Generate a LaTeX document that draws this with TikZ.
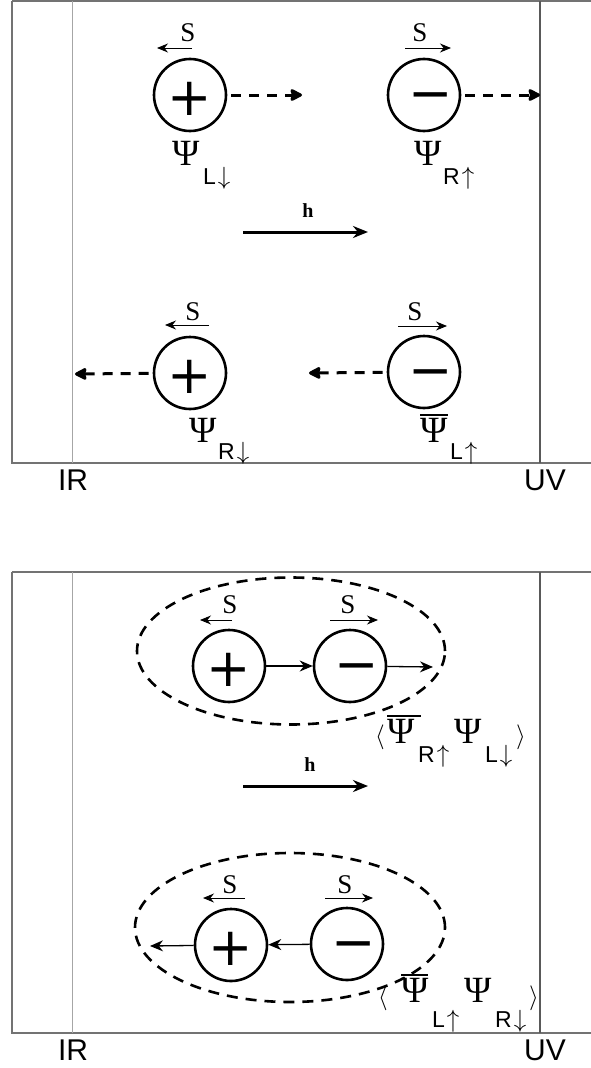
\documentclass[tikz,border=0pt]{standalone}
\usepackage{fontspec}
\usetikzlibrary{arrows.meta}
\newfontfamily\serf{Liberation Serif}
\newfontfamily\sanf{Liberation Sans}
\newfontfamily\signf{DejaVu Sans}
\newcommand{\psibar}[1]{\makebox[0pt][l]{\raisebox{26pt}{\rule{#1}{2pt}}}Ψ}
\newcommand{\subs}[2]{#1\kern2pt{\fontsize{27}{29}\selectfont$#2$}}
\newcommand{\plussign}{\smash{\raisebox{-20.5pt}{+}}}
\newcommand{\minussign}{\hspace{14pt}\smash{\raisebox{-16.5pt}{−}}}
\tikzset{
  frame/.style={draw=black!55, line width=1.5pt},
  irline/.style={draw=black!35, line width=1pt},
  uvline/.style={draw=black!65, line width=1.3pt},
  particle/.style={circle, draw, line width=2.6pt, minimum size=72pt, inner sep=0pt, font=\signf\fontsize{53}{56}\selectfont},
  dasharrow/.style={line width=3pt, dash pattern=on 10pt off 8pt, -{Stealth[length=14pt,width=14pt,inset=2pt,round]}, shorten <=4pt},
  spinarrow/.style={line width=0.9pt, -{Stealth[length=11pt,width=9pt]}},
  linkarrow/.style={line width=1.3pt, -{Stealth[length=13pt,width=11pt]}},
  harrow/.style={line width=3pt, -{Stealth[length=15pt,width=12pt]}},
  pair/.style={line width=2.6pt, dash pattern=on 11pt off 8pt},
  slab/.style={font=\serf\fontsize{27}{30}\selectfont, inner sep=0pt},
  hlab/.style={font=\serf\bfseries\fontsize{20}{22}\selectfont, inner sep=0pt},
  axlab/.style={font=\sanf\fontsize{30}{32}\selectfont, inner sep=0pt},
  psilab/.style={anchor=base west, inner sep=0pt, font=\serf\fontsize{37}{40}\selectfont},
  sublab/.style={anchor=base west, inner sep=0pt, font=\sanf\fontsize{23}{25}\selectfont},
  brk/.style={anchor=base west, inner sep=0pt, font=\fontsize{36}{40}\selectfont},
}
\begin{document}
\begin{tikzpicture}[x=1pt,y=-1pt]
\useasboundingbox (0,0) rectangle (591,1068);
% ---------- top panel ----------
\draw[frame] (12,1) -- (600,1);
\draw[frame] (12,1) -- (12,463) -- (600,463);
\draw[irline] (72,1) -- (72,463);
\draw[uvline] (540,1) -- (540,463);
\node[axlab] (ir1) at (73,480) {IR};
\node[axlab] (uv1) at (545,480) {UV};

\node[particle] (p1) at (190,95) {\plussign};
\node[particle] (m1) at (424,95) {\minussign};
\node[particle] (p2) at (190,373) {\plussign};
\node[particle] (m2) at (424,372) {\minussign};

\coordinate (t1) at (302,95);
\coordinate (t2) at (540,95);
\coordinate (t3) at (75,374);
\coordinate (t4) at (309,373);
\draw[dasharrow] (p1) -- (t1);
\draw[dasharrow] (m1) -- (t2);
\draw[dasharrow] (p2) -- (t3);
\draw[dasharrow] (m2) -- (t4);

\node[slab] (s1) at (188,33) {S};
\coordinate (s1a) at (192,48); \coordinate (s1b) at (157,48);
\draw[spinarrow] (s1a) -- (s1b);
\node[slab] (s2) at (420,33) {S};
\coordinate (s2a) at (405,48); \coordinate (s2b) at (451,48);
\draw[spinarrow] (s2a) -- (s2b);
\node[slab] (s3) at (193,312) {S};
\coordinate (s3a) at (209,325); \coordinate (s3b) at (165,325);
\draw[spinarrow] (s3a) -- (s3b);
\node[slab] (s4) at (415,312) {S};
\coordinate (s4a) at (398,326); \coordinate (s4b) at (447,326);
\draw[spinarrow] (s4a) -- (s4b);

\node[psilab] (l1) at (172,165) {Ψ};
\node[sublab] (l1s) at (203,184) {\subs{L}{\downarrow}};
\node[psilab] (l2) at (414,165) {Ψ};
\node[sublab] (l2s) at (443,184) {\subs{R}{\uparrow}};
\node[psilab] (l3) at (189,442) {Ψ};
\node[sublab] (l3s) at (218,459) {\subs{R}{\downarrow}};
\node[psilab] (l4) at (420,442) {\psibar{28pt}};
\node[sublab] (l4s) at (450,459) {\subs{L}{\uparrow}};

\node[hlab] (h1) at (308,211) {h};
\coordinate (h1a) at (243,232); \coordinate (h1b) at (368,232);
\draw[harrow] (h1a) -- (h1b);

% ---------- bottom panel ----------
\draw[frame] (12,572) -- (600,572);
\draw[frame] (12,572) -- (12,1033) -- (600,1033);
\draw[irline] (72,572) -- (72,1033);
\draw[uvline] (540,572) -- (540,1033);
\node[axlab] (ir2) at (73,1050) {IR};
\node[axlab] (uv2) at (545,1050) {UV};

\draw[pair] (291,651) ellipse [x radius=154pt, y radius=73.5pt];
\node[particle] (p3) at (229,666) {\plussign};
\node[particle] (m3) at (350,666) {\minussign};
\coordinate (a3) at (433,667);
\draw[linkarrow] (p3) -- (m3);
\draw[linkarrow] (m3) -- (a3);
\node[slab] (s5) at (230,605) {S};
\coordinate (s5a) at (232,620); \coordinate (s5b) at (200,620);
\draw[spinarrow] (s5a) -- (s5b);
\node[slab] (s6) at (348,605) {S};
\coordinate (s6a) at (330,620); \coordinate (s6b) at (378,620);
\draw[spinarrow] (s6a) -- (s6b);

\node[brk] (b1) at (375,743) {$\langle$};
\node[psilab] (q1) at (387,743) {\psibar{34pt}};
\node[sublab] (q1s) at (418,762) {\subs{R}{\uparrow}};
\node[psilab] (q2) at (454,743) {Ψ};
\node[sublab] (q2s) at (485,762) {\subs{L}{\downarrow}};
\node[brk] (k1) at (516,743) {$\rangle$};

\node[hlab] (h2) at (310,765) {h};
\coordinate (h2a) at (243,786); \coordinate (h2b) at (368,786);
\draw[harrow] (h2a) -- (h2b);

\draw[pair] (290,927.5) ellipse [x radius=155pt, y radius=74.5pt];
\node[particle] (p4) at (231,945) {\plussign};
\node[particle] (m4) at (347,944) {\minussign};
\coordinate (a4) at (150,946);
\draw[linkarrow] (m4) -- (p4);
\draw[linkarrow] (p4) -- (a4);
\node[slab] (s7) at (230,885) {S};
\coordinate (s7a) at (245,898); \coordinate (s7b) at (203,898);
\draw[spinarrow] (s7a) -- (s7b);
\node[slab] (s8) at (345,885) {S};
\coordinate (s8a) at (325,898); \coordinate (s8b) at (373,898);
\draw[spinarrow] (s8a) -- (s8b);

\node[brk] (b2) at (378,1004) {$\langle$};
\node[psilab] (q3) at (401,1002) {\psibar{27pt}};
\node[sublab] (q3s) at (432,1027) {\subs{L}{\uparrow}};
\node[psilab] (q4) at (464,1002) {Ψ};
\node[sublab] (q4s) at (495,1027) {\subs{R}{\downarrow}};
\node[brk] (k2) at (529,1004) {$\rangle$};
\end{tikzpicture}
\end{document}
